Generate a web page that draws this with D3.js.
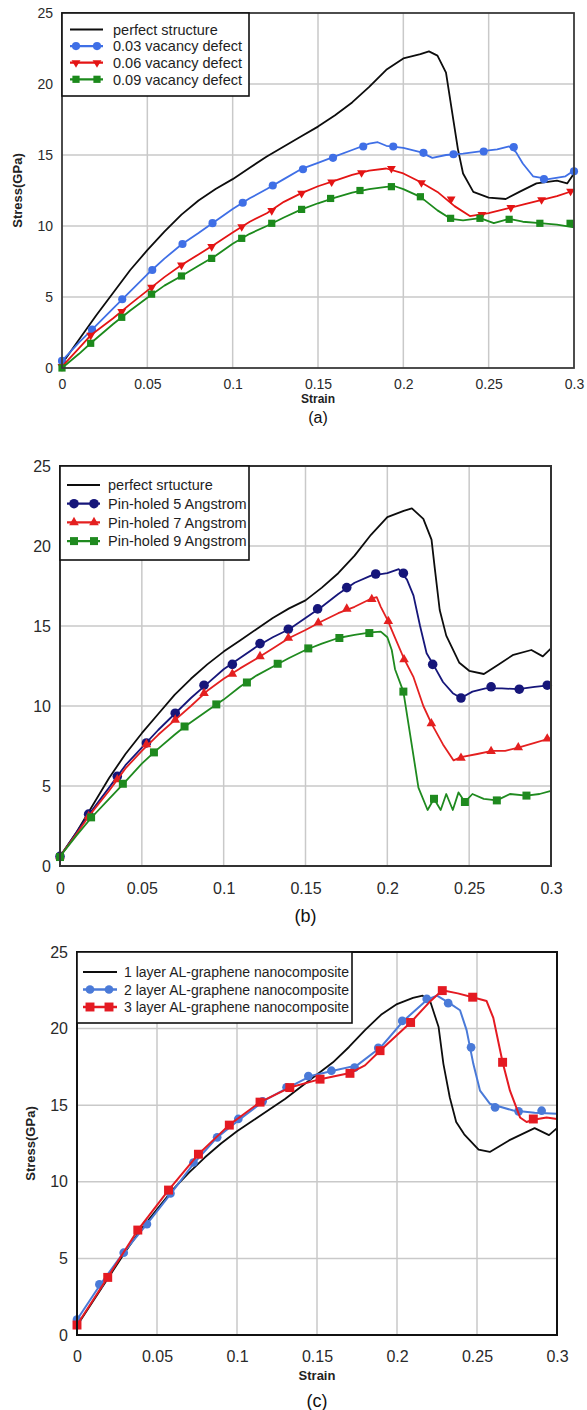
<!DOCTYPE html>
<html>
<head>
<meta charset="utf-8">
<script src="https://cdn.jsdelivr.net/npm/d3@7"></script>
<style>
  body { margin: 0; background: #fff; }
  svg { display: block; }
  text { font-family: "Liberation Sans", Arial, sans-serif; }
</style>
</head>
<body>
<svg id="fig" width="587" height="1410"></svg>
<script>
// ---------- axis ticks ----------
const xTicks = [0, 0.05, 0.1, 0.15, 0.2, 0.25, 0.3];
const xTickLabels = ["0", "0.05", "0.1", "0.15", "0.2", "0.25", "0.3"];
const yTicks = [0, 5, 10, 15, 20, 25];
const yTickLabels = ["0", "5", "10", "15", "20", "25"];

// ---------- (a) vacancy defects: [strain, stress GPa] ----------
const aNames = ["perfect structure", "0.03 vacancy defect", "0.06 vacancy defect", "0.09 vacancy defect"];
const aPerfect = [[0,0.3],[0.01,2.0],[0.02,3.7],[0.03,5.3],[0.04,6.9],[0.05,8.3],[0.06,9.6],[0.07,10.8],[0.08,11.8],[0.09,12.6],[0.1,13.3],[0.11,14.1],[0.12,14.9],[0.13,15.6],[0.14,16.3],[0.15,17.0],[0.16,17.8],[0.17,18.7],[0.18,19.8],[0.19,21.0],[0.2,21.8],[0.21,22.1],[0.215,22.3],[0.22,22.0],[0.225,20.8],[0.229,17.7],[0.232,15.4],[0.235,13.7],[0.241,12.4],[0.25,12.0],[0.26,11.9],[0.268,12.4],[0.278,13.0],[0.29,13.2],[0.296,13.0],[0.3,13.7]];
const aVac03 = [[0,0.5],[0.01,1.8],[0.0176,2.7],[0.03,4.2],[0.04,5.4],[0.05,6.6],[0.06,7.7],[0.07,8.7],[0.08,9.5],[0.09,10.35],[0.1,11.2],[0.11,11.95],[0.12,12.6],[0.13,13.3],[0.14,14.0],[0.15,14.45],[0.16,14.9],[0.17,15.35],[0.18,15.8],[0.185,15.9],[0.19,15.65],[0.2,15.5],[0.21,15.2],[0.217,14.8],[0.225,15.0],[0.235,15.1],[0.245,15.25],[0.255,15.4],[0.262,15.6],[0.266,15.2],[0.27,14.4],[0.276,13.5],[0.285,13.3],[0.295,13.5],[0.3,13.9]];
const aVac06 = [[0,0.1],[0.01,1.4],[0.0168,2.3],[0.03,3.5],[0.04,4.5],[0.05,5.45],[0.06,6.4],[0.07,7.25],[0.08,8.0],[0.09,8.75],[0.1,9.55],[0.11,10.3],[0.12,10.9],[0.13,11.7],[0.14,12.3],[0.15,12.8],[0.16,13.2],[0.17,13.6],[0.18,13.9],[0.19,14.05],[0.2,13.7],[0.21,13.1],[0.22,12.4],[0.23,11.4],[0.239,10.7],[0.25,10.9],[0.26,11.2],[0.27,11.5],[0.28,11.8],[0.29,12.1],[0.3,12.5]];
const aVac09 = [[0,0.0],[0.01,1.0],[0.0168,1.74],[0.03,3.1],[0.04,4.05],[0.05,4.95],[0.06,5.8],[0.07,6.48],[0.08,7.2],[0.09,7.9],[0.1,8.75],[0.11,9.45],[0.12,10.0],[0.13,10.6],[0.14,11.15],[0.15,11.6],[0.16,12.0],[0.17,12.35],[0.18,12.6],[0.19,12.75],[0.195,12.8],[0.2,12.6],[0.21,12.05],[0.22,11.1],[0.228,10.5],[0.235,10.4],[0.245,10.55],[0.253,10.2],[0.262,10.5],[0.27,10.3],[0.28,10.2],[0.29,10.1],[0.3,9.9]];
const aVac03Marks = [[0,0.5],[0.0176,2.7],[0.0353,4.84],[0.0529,6.9],[0.0706,8.73],[0.0882,10.2],[0.1059,11.64],[0.1235,12.85],[0.1412,14.0],[0.1588,14.8],[0.1765,15.6],[0.1941,15.6],[0.2118,15.15],[0.2294,15.05],[0.2471,15.25],[0.2647,15.55],[0.2824,13.3],[0.3,13.85]];
const aVac06Marks = [[0,0.1],[0.0168,2.3],[0.035,3.97],[0.0525,5.68],[0.07,7.25],[0.0877,8.55],[0.1053,9.95],[0.1229,11.08],[0.1404,12.3],[0.158,13.1],[0.1755,13.75],[0.193,14.05],[0.2106,13.05],[0.228,11.9],[0.246,10.8],[0.263,11.3],[0.281,11.85],[0.298,12.45]];
const aVac09Marks = [[0,0.0],[0.0168,1.74],[0.035,3.57],[0.0525,5.2],[0.07,6.48],[0.0877,7.72],[0.1053,9.13],[0.1229,10.19],[0.1404,11.17],[0.1574,11.94],[0.1746,12.5],[0.193,12.77],[0.21,12.06],[0.2277,10.54],[0.2449,10.54],[0.262,10.47],[0.28,10.19],[0.2977,10.19]];

// ---------- (b) pin-holes ----------
const bNames = ["perfect srtucture", "Pin-holed 5 Angstrom", "Pin-holed 7 Angstrom", "Pin-holed 9 Angstrom"];
const bPerfect = [[0,0.6],[0.01,2.1],[0.02,3.8],[0.03,5.5],[0.04,7.0],[0.05,8.3],[0.06,9.5],[0.07,10.7],[0.08,11.7],[0.09,12.6],[0.1,13.4],[0.11,14.1],[0.12,14.8],[0.13,15.5],[0.14,16.1],[0.15,16.6],[0.16,17.4],[0.17,18.3],[0.18,19.4],[0.19,20.7],[0.2,21.8],[0.21,22.2],[0.215,22.35],[0.222,21.7],[0.227,20.4],[0.229,18.6],[0.232,16.0],[0.236,14.4],[0.244,12.7],[0.25,12.2],[0.259,12.0],[0.268,12.6],[0.277,13.2],[0.288,13.5],[0.295,13.1],[0.3,13.6]];
const bPin5 = [[0,0.6],[0.01,2.1],[0.0175,3.2],[0.03,4.9],[0.035,5.6],[0.04,6.3],[0.05,7.4],[0.06,8.5],[0.07,9.5],[0.08,10.5],[0.09,11.4],[0.1,12.3],[0.11,13.0],[0.12,13.7],[0.13,14.3],[0.14,14.8],[0.15,15.5],[0.16,16.2],[0.17,17.0],[0.18,17.7],[0.19,18.15],[0.2,18.3],[0.207,18.55],[0.212,17.9],[0.216,16.9],[0.22,15.0],[0.224,13.3],[0.228,12.6],[0.234,11.5],[0.24,10.8],[0.245,10.5],[0.252,10.9],[0.26,11.1],[0.27,11.1],[0.28,11.05],[0.29,11.2],[0.3,11.3]];
const bPin7 = [[0,0.6],[0.01,2.0],[0.0175,3.1],[0.03,4.7],[0.035,5.4],[0.04,6.1],[0.05,7.2],[0.06,8.2],[0.07,9.1],[0.08,10.0],[0.09,10.95],[0.1,11.7],[0.11,12.35],[0.12,12.95],[0.13,13.6],[0.14,14.25],[0.15,14.75],[0.16,15.3],[0.17,15.8],[0.18,16.2],[0.19,16.7],[0.1935,16.8],[0.196,16.2],[0.2,15.4],[0.205,14.2],[0.21,13.0],[0.216,11.8],[0.222,10.0],[0.227,8.9],[0.234,7.6],[0.2405,6.6],[0.245,6.8],[0.255,7.0],[0.264,7.2],[0.272,7.2],[0.28,7.4],[0.29,7.7],[0.3,8.0]];
const bPin9 = [[0,0.6],[0.01,1.9],[0.019,3.0],[0.03,4.2],[0.0384,5.1],[0.05,6.4],[0.0574,7.1],[0.07,8.2],[0.0761,8.7],[0.09,9.7],[0.0955,10.1],[0.1,10.4],[0.11,11.2],[0.1142,11.5],[0.12,11.9],[0.13,12.45],[0.14,13.0],[0.15,13.5],[0.16,13.9],[0.17,14.25],[0.18,14.45],[0.19,14.6],[0.196,14.65],[0.2,14.3],[0.2027,13.5],[0.2047,12.3],[0.2098,10.9],[0.2155,7.2],[0.219,4.9],[0.2246,3.5],[0.2285,4.2],[0.2326,3.5],[0.236,4.5],[0.24,3.5],[0.2435,4.6],[0.2474,4.0],[0.252,4.5],[0.2589,4.2],[0.2669,4.1],[0.2749,4.5],[0.285,4.4],[0.293,4.5],[0.3,4.7]];
const bPin5Marks = [[0,0.6],[0.0175,3.24],[0.035,5.6],[0.0528,7.69],[0.0704,9.55],[0.088,11.3],[0.1053,12.6],[0.1222,13.9],[0.1395,14.8],[0.1574,16.07],[0.1752,17.4],[0.1929,18.25],[0.2098,18.3],[0.2277,12.6],[0.245,10.5],[0.2634,11.2],[0.2806,11.05],[0.2977,11.3]];
const bPin7Marks = [[0,0.6],[0.0175,3.1],[0.035,5.4],[0.0528,7.6],[0.0704,9.13],[0.088,10.8],[0.1053,12.0],[0.1222,13.1],[0.1395,14.25],[0.1578,15.2],[0.1752,16.07],[0.1905,16.67],[0.2006,15.3],[0.2102,12.9],[0.2269,8.9],[0.245,6.75],[0.2634,7.17],[0.28,7.4],[0.2977,7.95]];
const bPin9Marks = [[0,0.56],[0.019,3.04],[0.0384,5.14],[0.0574,7.1],[0.0761,8.72],[0.0955,10.1],[0.1142,11.47],[0.133,12.64],[0.1517,13.6],[0.1707,14.25],[0.189,14.56],[0.2098,10.9],[0.2285,4.2],[0.2474,4.0],[0.2669,4.1],[0.285,4.4]];

// ---------- (c) layered Al-graphene ----------
const cNames = ["1 layer AL-graphene nanocomposite", "2 layer AL-graphene nanocomposite", "3 layer AL-graphene nanocomposite"];
const cLayer1 = [[0,0.6],[0.01,2.2],[0.02,3.8],[0.03,5.4],[0.04,6.9],[0.05,8.2],[0.06,9.5],[0.07,10.6],[0.08,11.6],[0.09,12.5],[0.1,13.3],[0.11,14.0],[0.12,14.7],[0.13,15.4],[0.14,16.2],[0.15,17.0],[0.16,17.8],[0.17,18.8],[0.18,19.9],[0.19,20.9],[0.2,21.6],[0.21,22.0],[0.216,22.15],[0.221,21.7],[0.226,20.1],[0.229,17.7],[0.233,15.5],[0.237,13.9],[0.242,13.1],[0.251,12.1],[0.258,11.95],[0.27,12.7],[0.286,13.5],[0.295,13.05],[0.3,13.5]];
const cLayer2 = [[0,1.0],[0.0146,3.3],[0.0292,5.4],[0.0438,7.25],[0.0584,9.2],[0.073,11.2],[0.0876,12.9],[0.102,14.1],[0.117,15.3],[0.131,16.1],[0.146,16.9],[0.16,17.25],[0.175,17.6],[0.19,18.8],[0.204,20.5],[0.219,21.9],[0.225,22.15],[0.233,21.65],[0.2394,21.2],[0.2435,19.9],[0.2477,17.7],[0.2519,15.95],[0.258,15.1],[0.2727,14.65],[0.286,14.5],[0.3,14.45]];
const cLayer3 = [[0,0.65],[0.0192,3.76],[0.038,6.85],[0.0572,9.45],[0.0759,11.8],[0.095,13.7],[0.1144,15.2],[0.133,16.15],[0.152,16.7],[0.1706,17.1],[0.18,17.6],[0.1894,18.55],[0.2085,20.4],[0.22,21.7],[0.2283,22.5],[0.238,22.3],[0.2473,22.05],[0.256,21.8],[0.2602,20.7],[0.266,17.8],[0.2706,15.95],[0.2769,14.2],[0.281,13.9],[0.2852,14.05],[0.2935,14.2],[0.3,14.1]];
const cLayer2Marks = [[0,1.0],[0.014,3.3],[0.0292,5.37],[0.0437,7.24],[0.0584,9.24],[0.0728,11.26],[0.0876,12.9],[0.1008,14.1],[0.116,15.25],[0.131,16.17],[0.1446,16.9],[0.159,17.25],[0.1735,17.45],[0.1883,18.74],[0.2033,20.5],[0.2186,21.94],[0.232,21.66],[0.2463,18.78],[0.2613,14.86],[0.276,14.6],[0.2904,14.64]];
const cLayer3Marks = [[0,0.65],[0.0192,3.76],[0.038,6.85],[0.0572,9.46],[0.0759,11.8],[0.0952,13.7],[0.1144,15.2],[0.133,16.15],[0.1519,16.7],[0.1706,17.08],[0.1894,18.56],[0.2085,20.4],[0.2283,22.48],[0.2473,22.05],[0.266,17.8],[0.2852,14.1]];

// ---------- drawing ----------
const svg = d3.select("#fig");

const triDown = { draw(ctx, size) { const s = Math.sqrt(size * 4 / Math.sqrt(3)); const h = s * Math.sqrt(3) / 2;
  ctx.moveTo(0, h * 2 / 3); ctx.lineTo(-s / 2, -h / 3); ctx.lineTo(s / 2, -h / 3); ctx.closePath(); } };
const triUp = { draw(ctx, size) { const s = Math.sqrt(size * 4 / Math.sqrt(3)); const h = s * Math.sqrt(3) / 2;
  ctx.moveTo(0, -h * 2 / 3); ctx.lineTo(-s / 2, h / 3); ctx.lineTo(s / 2, h / 3); ctx.closePath(); } };

function drawPanel(p) {
  const g = svg.append("g");
  const x = d3.scaleLinear().domain([0, 0.3]).range([p.left, p.right]);
  const y = d3.scaleLinear().domain([0, 25]).range([p.bottom, p.top]);

  // grid
  g.append("g").selectAll("line").data(xTicks.slice(1, -1)).join("line")
    .attr("x1", d => x(d)).attr("x2", d => x(d)).attr("y1", p.top).attr("y2", p.bottom)
    .attr("stroke", "#c9c9c9").attr("stroke-width", 1.5);
  g.append("g").selectAll("line").data(yTicks.slice(1, -1)).join("line")
    .attr("x1", p.left).attr("x2", p.right).attr("y1", d => y(d)).attr("y2", d => y(d))
    .attr("stroke", "#c9c9c9").attr("stroke-width", 1.5);

  // axes (labels only; frame drawn separately)
  const xAxis = d3.axisBottom(x).tickValues(xTicks).tickFormat((d, i) => xTickLabels[i]).tickSize(0).tickPadding(p.xPad);
  const yAxis = d3.axisLeft(y).tickValues(yTicks).tickFormat((d, i) => yTickLabels[i]).tickSize(0).tickPadding(p.yPad);
  const gx = g.append("g").attr("transform", `translate(0,${p.bottom})`).call(xAxis);
  const gy = g.append("g").attr("transform", `translate(${p.left},0)`).call(yAxis);
  [gx, gy].forEach(a => {
    a.select(".domain").remove();
    a.selectAll("text").attr("font-family", "Liberation Sans, Arial, sans-serif")
      .attr("font-size", p.tickFont).attr("fill", "#2a2a2a");
  });

  // series
  const line = d3.line().x(d => x(d[0])).y(d => y(d[1]));
  const plot = g.append("g");
  p.series.forEach(s => {
    plot.append("path").datum(s.data).attr("d", line)
      .attr("fill", "none").attr("stroke", s.color).attr("stroke-width", s.width)
      .attr("stroke-linejoin", "round");
    if (s.marks) {
      plot.append("g").selectAll("path").data(s.marks).join("path")
        .attr("transform", d => `translate(${x(d[0])},${y(d[1])})`)
        .attr("d", d3.symbol().type(s.shape).size(s.size))
        .attr("fill", s.color);
    }
  });

  // frame
  g.append("rect").attr("x", p.left).attr("y", p.top)
    .attr("width", p.right - p.left).attr("height", p.bottom - p.top)
    .attr("fill", "none").attr("stroke", p.frame).attr("stroke-width", p.frameW);

  // legend
  const L = p.legend;
  const lg = g.append("g");
  lg.append("rect").attr("x", p.left).attr("y", p.top).attr("width", L.w).attr("height", L.h)
    .attr("fill", "#fff").attr("stroke", "#111").attr("stroke-width", 1.6);
  p.series.forEach((s, i) => {
    const ry = p.top + L.row0 + i * L.step;
    lg.append("line").attr("x1", p.left + L.l0).attr("x2", p.left + L.l1)
      .attr("y1", ry).attr("y2", ry).attr("stroke", s.color).attr("stroke-width", s.width + 0.4);
    if (s.marks) {
      [L.m0, L.m1].forEach(mx => lg.append("path")
        .attr("transform", `translate(${p.left + mx},${ry})`)
        .attr("d", d3.symbol().type(s.shape).size(s.size)).attr("fill", s.color));
    }
    lg.append("text").attr("x", p.left + L.tx).attr("y", ry).attr("dy", "0.36em")
      .attr("font-size", L.font).attr("fill", "#1e1e1e").text(s.name);
  });

  // titles
  if (p.xTitle) {
    g.append("text").attr("x", (p.left + p.right) / 2).attr("y", p.bottom + p.xTitleDy)
      .attr("text-anchor", "middle").attr("font-weight", "bold").attr("font-size", p.xTitleFont)
      .attr("fill", "#222").text("Strain");
  }
  if (p.yTitle) {
    g.append("text").attr("transform", `translate(${p.yTitleX},${(p.top + p.bottom) / 2}) rotate(-90)`)
      .attr("text-anchor", "middle").attr("font-weight", "bold").attr("font-size", 13)
      .attr("fill", "#222").text("Stress(GPa)");
  }
  g.append("text").attr("x", (p.left + p.right) / 2).attr("y", p.capY)
    .attr("text-anchor", "middle").attr("font-family", "Liberation Serif, Times New Roman, serif")
    .attr("font-size", p.capFont).attr("fill", "#111").text(p.caption);
}

drawPanel({
  left: 62, right: 574, top: 13, bottom: 368, tickFont: 14, xPad: 11, yPad: 9,
  frame: "#3a3a3a", frameW: 1.8, xTitle: true, xTitleDy: 35, xTitleFont: 12, yTitle: true, yTitleX: 22,
  caption: "(a)", capY: 423, capFont: 16,
  legend: { w: 187, h: 83, row0: 16.5, step: 16.6, l0: 8, l1: 41, m0: 14, m1: 35, tx: 51, font: 14.5 },
  series: [
    { name: aNames[0], data: aPerfect, color: "#0d0d0d", width: 1.8 },
    { name: aNames[1], data: aVac03, marks: aVac03Marks, color: "#3f6fe6", width: 1.8, shape: d3.symbolCircle, size: 52 },
    { name: aNames[2], data: aVac06, marks: aVac06Marks, color: "#e41414", width: 1.8, shape: triDown, size: 34 },
    { name: aNames[3], data: aVac09, marks: aVac09Marks, color: "#1c8a1c", width: 1.8, shape: d3.symbolSquare, size: 52 }
  ]
});

drawPanel({
  left: 60, right: 551, top: 466, bottom: 866, tickFont: 16, xPad: 17, yPad: 9,
  frame: "#333", frameW: 2, xTitle: false, yTitle: false,
  caption: "(b)", capY: 922, capFont: 18,
  legend: { w: 189, h: 94, row0: 19, step: 18.7, l0: 7, l1: 40, m0: 14, m1: 34, tx: 48, font: 14.5 },
  series: [
    { name: bNames[0], data: bPerfect, color: "#0d0d0d", width: 1.8 },
    { name: bNames[1], data: bPin5, marks: bPin5Marks, color: "#16167a", width: 1.8, shape: d3.symbolCircle, size: 72 },
    { name: bNames[2], data: bPin7, marks: bPin7Marks, color: "#e42020", width: 1.8, shape: triUp, size: 40 },
    { name: bNames[3], data: bPin9, marks: bPin9Marks, color: "#1f8a1f", width: 1.8, shape: d3.symbolSquare, size: 64 }
  ]
});

drawPanel({
  left: 77, right: 557, top: 952, bottom: 1335, tickFont: 16, xPad: 16, yPad: 9,
  frame: "#111", frameW: 2, xTitle: true, xTitleDy: 45, xTitleFont: 13, yTitle: true, yTitleX: 35,
  caption: "(c)", capY: 1407, capFont: 18,
  legend: { w: 275, h: 71, row0: 20, step: 17.5, l0: 6, l1: 40, m0: 13, m1: 32, tx: 47, font: 14 },
  series: [
    { name: cNames[0], data: cLayer1, color: "#0d0d0d", width: 1.8 },
    { name: cNames[1], data: cLayer2, marks: cLayer2Marks, color: "#4a7ad8", width: 2, shape: d3.symbolCircle, size: 60 },
    { name: cNames[2], data: cLayer3, marks: cLayer3Marks, color: "#e41a22", width: 2, shape: d3.symbolSquare, size: 80 }
  ]
});
</script>
</body>
</html>
